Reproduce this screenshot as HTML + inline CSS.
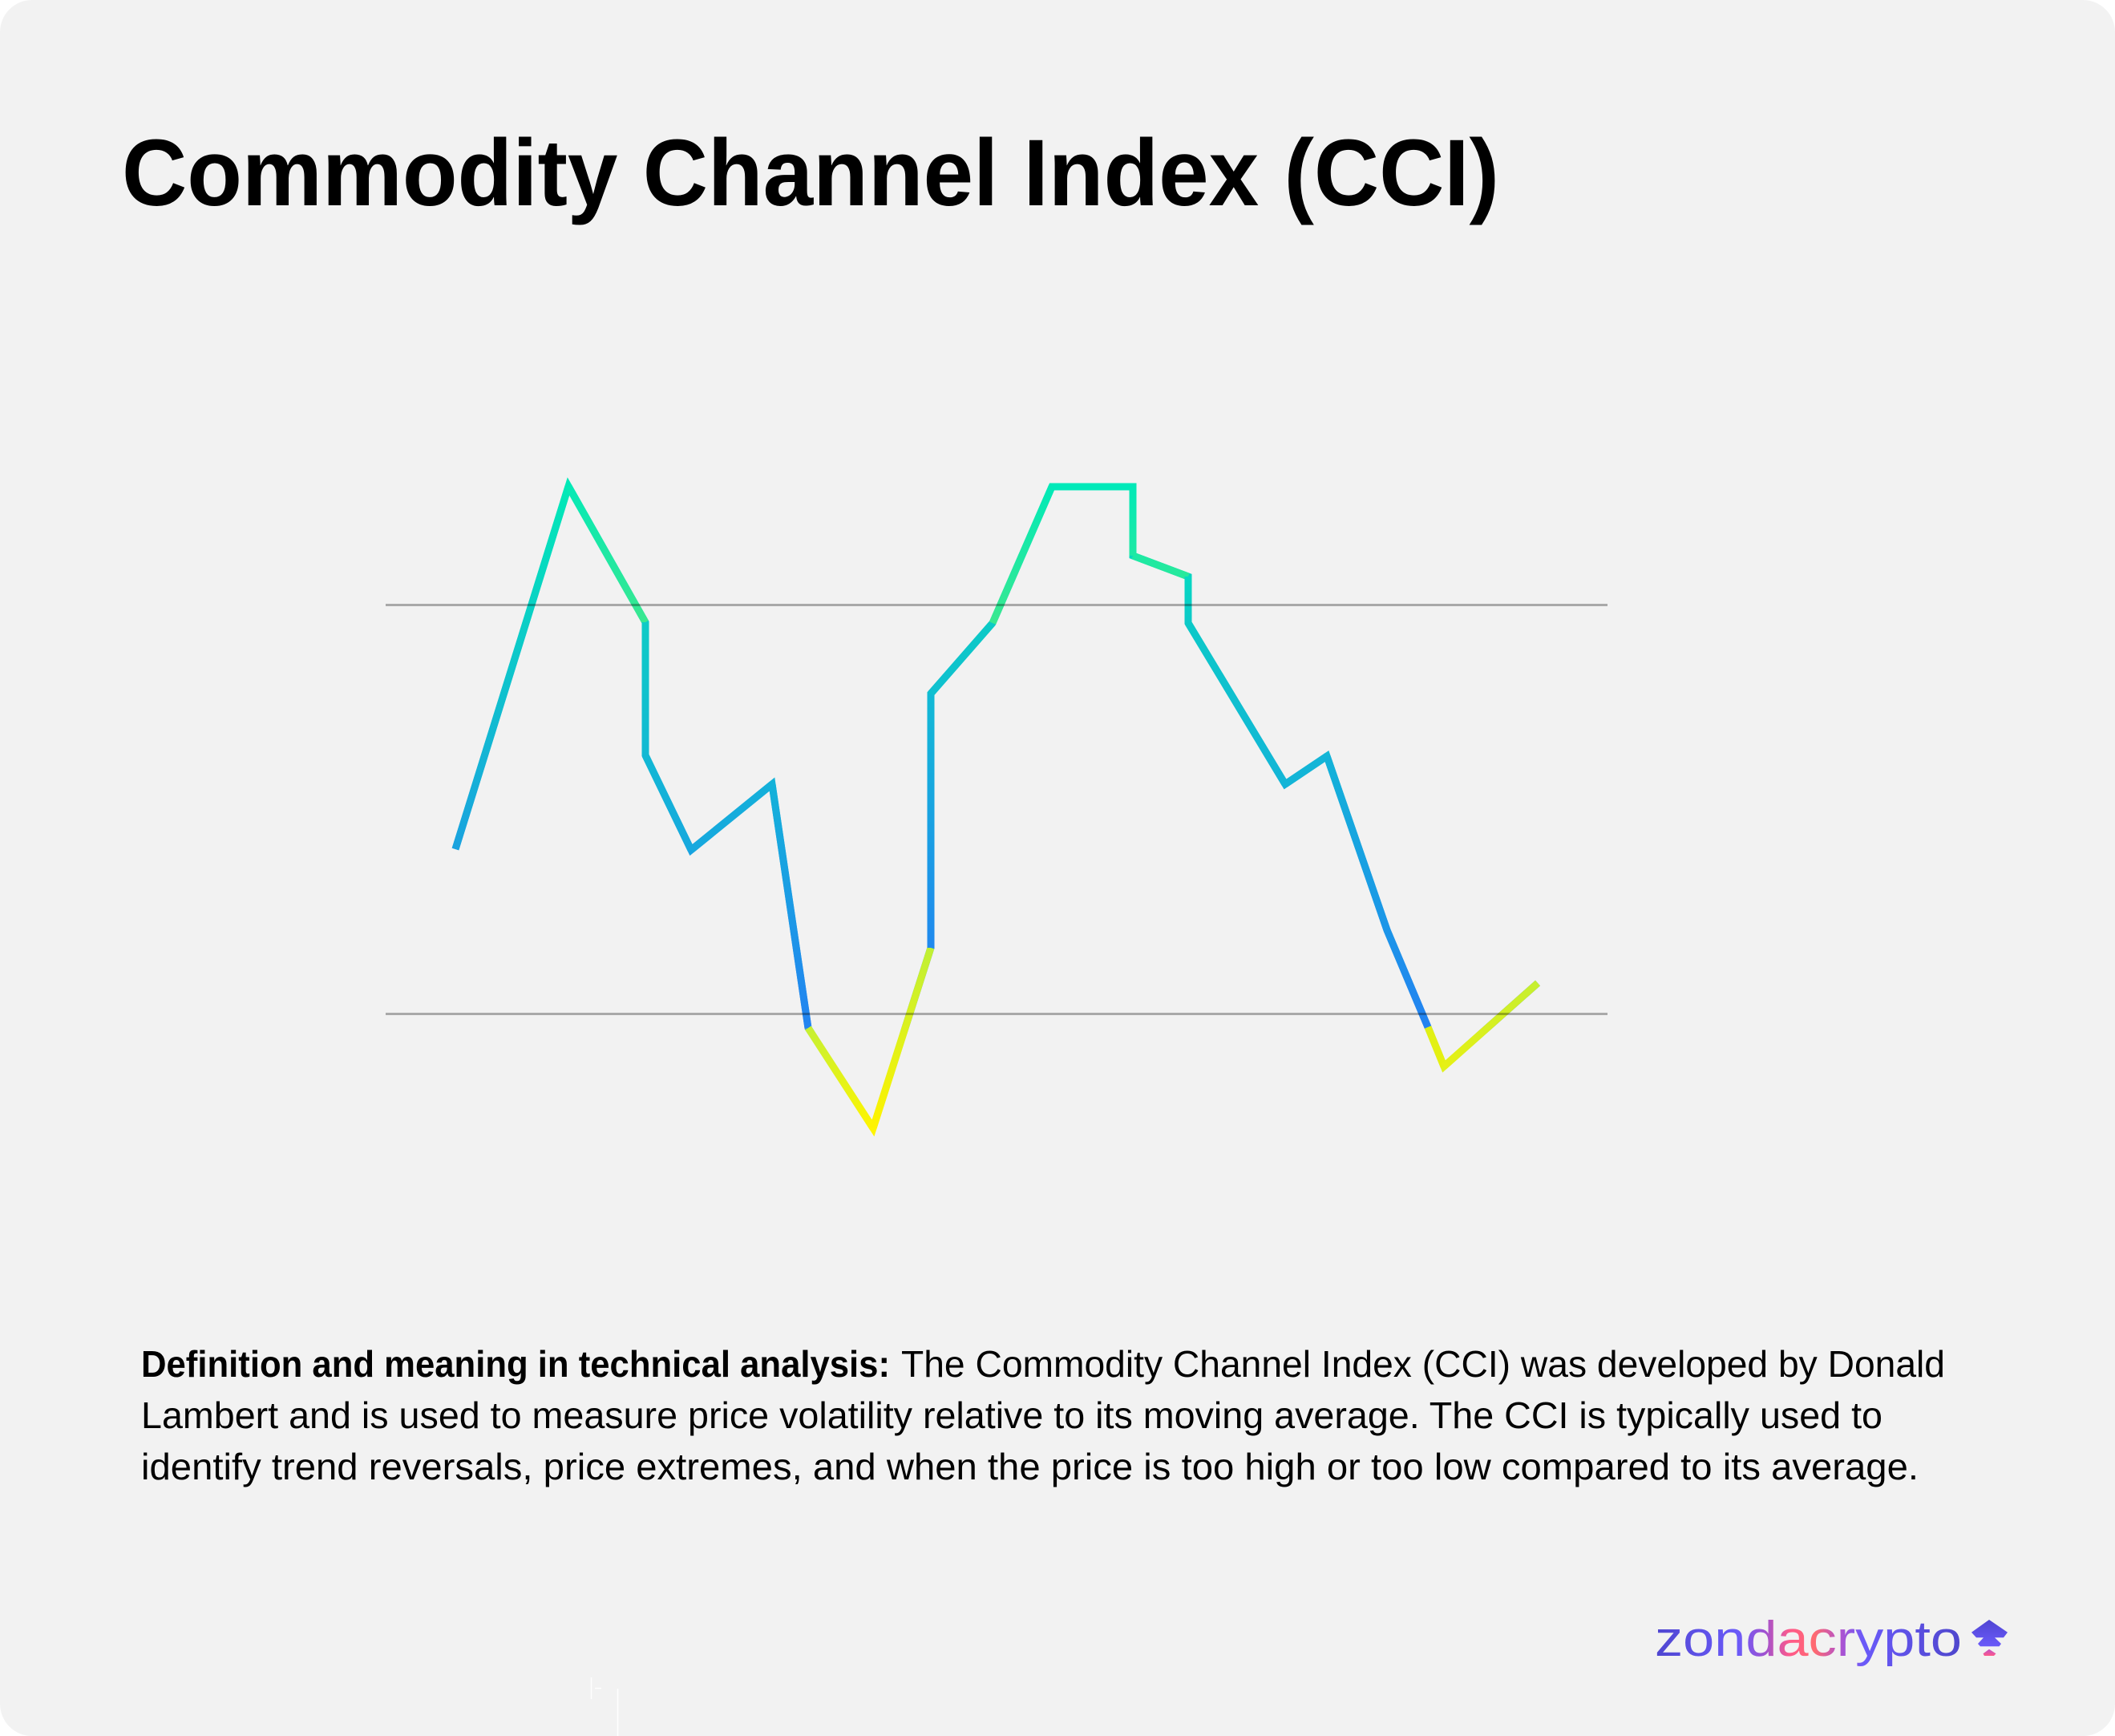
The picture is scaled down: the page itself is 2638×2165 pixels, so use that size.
<!DOCTYPE html>
<html>
<head>
<meta charset="utf-8">
<style>
html,body{margin:0;padding:0;background:#ffffff;}
svg{display:block;}
</style>
</head>
<body>
<svg xmlns="http://www.w3.org/2000/svg" width="2638" height="2165" viewBox="0 0 2638 2165">
<defs>
  <linearGradient id="base" gradientUnits="userSpaceOnUse" x1="0" y1="600" x2="0" y2="1410">
    <stop offset="0" stop-color="#02e9b7"/>
    <stop offset="0.222" stop-color="#0ccac6"/>
    <stop offset="0.469" stop-color="#14b2d9"/>
    <stop offset="0.716" stop-color="#1f8cec"/>
    <stop offset="0.84" stop-color="#2383f1"/>
    <stop offset="0.852" stop-color="#cdf02c"/>
    <stop offset="1" stop-color="#fff500"/>
  </linearGradient>
  <linearGradient id="g1" gradientUnits="userSpaceOnUse" x1="568" y1="1059" x2="709" y2="606.5"><stop offset="0" stop-color="#1aa2df"/><stop offset="1" stop-color="#02e9b7"/></linearGradient>
  <linearGradient id="g2" gradientUnits="userSpaceOnUse" x1="709" y1="606.5" x2="805" y2="776"><stop offset="0" stop-color="#05e9b6"/><stop offset="1" stop-color="#3ae890"/></linearGradient>
  <linearGradient id="g3" gradientUnits="userSpaceOnUse" x1="805" y1="776" x2="805" y2="942"><stop offset="0" stop-color="#0ecbc6"/><stop offset="1" stop-color="#12b9d3"/></linearGradient>
  <linearGradient id="g4" gradientUnits="userSpaceOnUse" x1="805" y1="942" x2="862" y2="1060"><stop offset="0" stop-color="#12b8d4"/><stop offset="1" stop-color="#17a8de"/></linearGradient>
  <linearGradient id="g5" gradientUnits="userSpaceOnUse" x1="862" y1="1060" x2="963" y2="978"><stop offset="0" stop-color="#17a8de"/><stop offset="1" stop-color="#14b0da"/></linearGradient>
  <linearGradient id="g6" gradientUnits="userSpaceOnUse" x1="963" y1="978" x2="1008" y2="1282"><stop offset="0" stop-color="#14b2d9"/><stop offset="1" stop-color="#2383f1"/></linearGradient>
  <linearGradient id="g7" gradientUnits="userSpaceOnUse" x1="1008" y1="1282" x2="1089" y2="1407"><stop offset="0" stop-color="#c6f033"/><stop offset="1" stop-color="#fff500"/></linearGradient>
  <linearGradient id="g8" gradientUnits="userSpaceOnUse" x1="1089" y1="1407" x2="1161" y2="1182"><stop offset="0" stop-color="#fff300"/><stop offset="1" stop-color="#c0f035"/></linearGradient>
  <linearGradient id="g9" gradientUnits="userSpaceOnUse" x1="1161" y1="1182" x2="1161" y2="865"><stop offset="0" stop-color="#2089ee"/><stop offset="1" stop-color="#12bad5"/></linearGradient>
  <linearGradient id="g10" gradientUnits="userSpaceOnUse" x1="1161" y1="865" x2="1238" y2="777"><stop offset="0" stop-color="#10c0d0"/><stop offset="1" stop-color="#0ccac6"/></linearGradient>
  <linearGradient id="g11" gradientUnits="userSpaceOnUse" x1="1238" y1="777" x2="1312" y2="607"><stop offset="0" stop-color="#3ae890"/><stop offset="1" stop-color="#02e9b7"/></linearGradient>
  <linearGradient id="g13" gradientUnits="userSpaceOnUse" x1="1413" y1="607" x2="1413" y2="693"><stop offset="0" stop-color="#02e9b7"/><stop offset="1" stop-color="#1ee9a4"/></linearGradient>
  <linearGradient id="g14" gradientUnits="userSpaceOnUse" x1="1413" y1="693" x2="1482" y2="719"><stop offset="0" stop-color="#1ee9a4"/><stop offset="1" stop-color="#28e99c"/></linearGradient>
  <linearGradient id="g15" gradientUnits="userSpaceOnUse" x1="1482" y1="719" x2="1482" y2="777"><stop offset="0" stop-color="#06d8c2"/><stop offset="1" stop-color="#0cc9c8"/></linearGradient>
  <linearGradient id="g16" gradientUnits="userSpaceOnUse" x1="1482" y1="777" x2="1603" y2="978"><stop offset="0" stop-color="#0cc9c8"/><stop offset="1" stop-color="#13b5d7"/></linearGradient>
  <linearGradient id="g18" gradientUnits="userSpaceOnUse" x1="1655" y1="943" x2="1730" y2="1160"><stop offset="0" stop-color="#13b3d8"/><stop offset="1" stop-color="#1c95e8"/></linearGradient>
  <linearGradient id="g19" gradientUnits="userSpaceOnUse" x1="1730" y1="1160" x2="1781" y2="1281"><stop offset="0" stop-color="#1c95e8"/><stop offset="1" stop-color="#2382f1"/></linearGradient>
  <linearGradient id="g20" gradientUnits="userSpaceOnUse" x1="1781" y1="1281" x2="1801" y2="1330"><stop offset="0" stop-color="#e0f015"/><stop offset="1" stop-color="#e6f010"/></linearGradient>
  <linearGradient id="g21" gradientUnits="userSpaceOnUse" x1="1801" y1="1330" x2="1918" y2="1226"><stop offset="0" stop-color="#e6f015"/><stop offset="1" stop-color="#c6ef30"/></linearGradient>
  <linearGradient id="logo" gradientUnits="userSpaceOnUse" x1="2064" y1="0" x2="2447" y2="0">
    <stop offset="0" stop-color="#4f46d0"/>
    <stop offset="0.27" stop-color="#6a5af9"/>
    <stop offset="0.36" stop-color="#a052d0"/>
    <stop offset="0.44" stop-color="#ff5a8a"/>
    <stop offset="0.52" stop-color="#ff6a70"/>
    <stop offset="0.6" stop-color="#b452cc"/>
    <stop offset="0.68" stop-color="#6a5af9"/>
    <stop offset="1" stop-color="#4e46cc"/>
  </linearGradient>
  <linearGradient id="icon1" gradientUnits="userSpaceOnUse" x1="0" y1="2020" x2="0" y2="2053">
    <stop offset="0" stop-color="#4f45d2"/><stop offset="1" stop-color="#6a5af9"/>
  </linearGradient>
  <linearGradient id="icon2" gradientUnits="userSpaceOnUse" x1="0" y1="2056" x2="0" y2="2065">
    <stop offset="0" stop-color="#b850d0"/><stop offset="1" stop-color="#ff5a88"/>
  </linearGradient>
</defs>

<rect x="0" y="0" width="2638" height="2165" fill="#ffffff"/>
<rect x="0" y="0" width="2638" height="2165" rx="40" ry="40" fill="#f2f2f2"/>

<text x="152" y="256" font-family="'Liberation Sans', Arial, sans-serif" font-weight="bold" font-size="118" fill="#000" textLength="1718" lengthAdjust="spacingAndGlyphs">Commodity Channel Index (CCI)</text>

<!-- base polyline for joins -->
<polyline points="568,1059 709,606.5 805,776 805,942 862,1060 963,978 1008,1282 1089,1407 1161,1182 1161,865 1238,777 1312,607 1413,607 1413,693 1482,719 1482,777 1603,978 1655,943 1730,1160 1781,1281 1801,1330 1918,1226" fill="none" stroke="url(#base)" stroke-width="9" stroke-linejoin="miter" stroke-miterlimit="10" stroke-linecap="butt"/>

<g fill="none" stroke-width="9" stroke-linecap="butt">
  <line x1="568" y1="1059" x2="709" y2="606.5" stroke="url(#g1)"/>
  <line x1="709" y1="606.5" x2="805" y2="776" stroke="url(#g2)"/>
  <line x1="805" y1="776" x2="805" y2="942" stroke="url(#g3)"/>
  <line x1="805" y1="942" x2="862" y2="1060" stroke="url(#g4)"/>
  <line x1="862" y1="1060" x2="963" y2="978" stroke="url(#g5)"/>
  <line x1="963" y1="978" x2="1008" y2="1282" stroke="url(#g6)"/>
  <line x1="1008" y1="1282" x2="1089" y2="1407" stroke="url(#g7)"/>
  <line x1="1089" y1="1407" x2="1161" y2="1182" stroke="url(#g8)"/>
  <line x1="1161" y1="1182" x2="1161" y2="865" stroke="url(#g9)"/>
  <line x1="1161" y1="865" x2="1238" y2="777" stroke="url(#g10)"/>
  <line x1="1238" y1="777" x2="1312" y2="607" stroke="url(#g11)"/>
  <line x1="1312" y1="607" x2="1413" y2="607" stroke="#00e9b9"/>
  <line x1="1413" y1="607" x2="1413" y2="693" stroke="url(#g13)"/>
  <line x1="1413" y1="693" x2="1482" y2="719" stroke="url(#g14)"/>
  <line x1="1482" y1="719" x2="1482" y2="777" stroke="url(#g15)"/>
  <line x1="1482" y1="777" x2="1603" y2="978" stroke="url(#g16)"/>
  <line x1="1603" y1="978" x2="1655" y2="943" stroke="#13b5d7"/>
  <line x1="1655" y1="943" x2="1730" y2="1160" stroke="url(#g18)"/>
  <line x1="1730" y1="1160" x2="1781" y2="1281" stroke="url(#g19)"/>
  <line x1="1781" y1="1281" x2="1801" y2="1330" stroke="url(#g20)"/>
  <line x1="1801" y1="1330" x2="1918" y2="1226" stroke="url(#g21)"/>
</g>

<!-- threshold lines -->
<line x1="481" y1="754.5" x2="2005" y2="754.5" stroke="rgba(0,0,0,0.3)" stroke-width="3"/>
<line x1="481" y1="1264.5" x2="2005" y2="1264.5" stroke="rgba(0,0,0,0.3)" stroke-width="3"/>

<!-- paragraph -->
<g font-family="'Liberation Sans', Arial, sans-serif" font-size="46" fill="#000">
  <text x="176" y="1717" font-weight="bold" textLength="934" lengthAdjust="spacingAndGlyphs">Definition and meaning in technical analysis:</text>
  <text x="1124" y="1717" textLength="1302" lengthAdjust="spacingAndGlyphs">The Commodity Channel Index (CCI) was developed by Donald</text>
  <text x="176" y="1781" textLength="2172" lengthAdjust="spacingAndGlyphs">Lambert and is used to measure price volatility relative to its moving average. The CCI is typically used to</text>
  <text x="176" y="1845" textLength="2217" lengthAdjust="spacingAndGlyphs">identify trend reversals, price extremes, and when the price is too high or too low compared to its average.</text>
</g>

<!-- logo -->
<text x="2064" y="2065" font-family="'Liberation Sans', Arial, sans-serif" font-size="62" fill="url(#logo)" textLength="383" lengthAdjust="spacingAndGlyphs">zondacrypto</text>
<polygon points="2481,2020 2459,2035.7 2465,2042.3 2474,2042.3 2467,2050 2470,2053.3 2493.5,2053.3 2496,2050 2488,2042.3 2499,2042.3 2504,2035.7" fill="url(#icon1)"/>
<polygon points="2481,2056.7 2473.5,2062.3 2475,2065 2487,2065 2489.5,2062.3" fill="url(#icon2)"/>

<!-- small white marks at bottom -->
<g stroke="#ffffff" stroke-width="1.5">
  <line x1="737.5" y1="2092" x2="737.5" y2="2119"/>
  <line x1="742" y1="2105.5" x2="750" y2="2105.5"/>
  <line x1="770.5" y1="2106" x2="770.5" y2="2165"/>
</g>
</svg>
</body>
</html>
